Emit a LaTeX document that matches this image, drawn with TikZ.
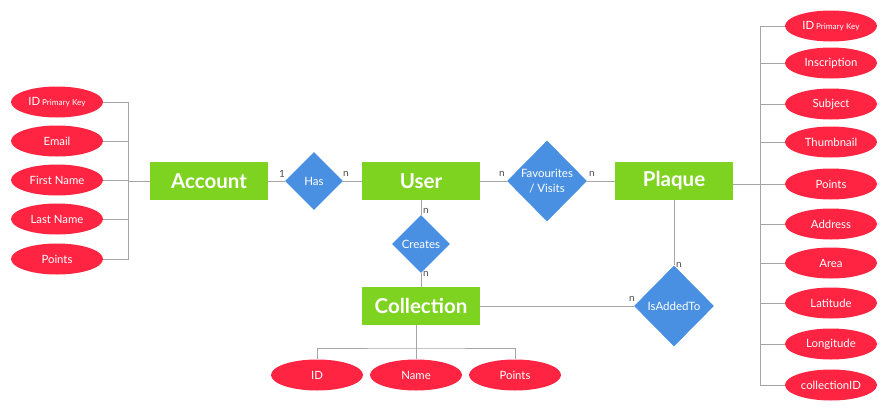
\documentclass[tikz,border=0pt]{standalone}
\usepackage{fontspec}
\setmainfont{Lato}
\usetikzlibrary{shapes}
\definecolor{entgreen}{RGB}{126,211,33}
\definecolor{relblue}{RGB}{74,144,226}
\definecolor{attred}{RGB}{255,36,66}
\definecolor{linegray}{RGB}{165,165,165}
\tikzset{
	entity/.style = {
		rectangle,
		fill=entgreen,
		draw=none,
		text=white,
		font=\fontsize{17.5}{20}\selectfont\bfseries,
		minimum width=118*0.03cm,
		minimum height=38*0.03cm,
		inner sep=0pt
	},
	relation/.style = {
		diamond,
		fill=relblue,
		draw=none,
		inner sep=0pt,
		minimum width=58*0.03cm,
		minimum height=58*0.03cm
	},
	relation_big/.style = {
		relation,
		minimum width=80*0.03cm,
		minimum height=81*0.03cm
	},
	reltext/.style = {
		text=white,
		align=center,
		font=\fontsize{9.8}{12.5}\selectfont,
		inner sep=0pt
	},
	attribute/.style = {
		ellipse,
		fill=attred,
		draw=none,
		text=white,
		font=\fontsize{9.7}{11}\selectfont,
		minimum width=92*0.03cm,
		minimum height=31*0.03cm,
		inner sep=0pt
	},
	card/.style = {
		text=black!70,
		font=\fontsize{8.5}{10}\selectfont,
		inner sep=0pt
	},
	link/.style = {
		draw=linegray,
		line width=0.8pt
	}
}
\newcommand{\pkey}{\,{\fontsize{7}{8}\selectfont Primary Key}}

\begin{document}
\begin{tikzpicture}[x=0.03cm, y=-0.03cm]
\useasboundingbox (0,0) rectangle (885,413);

% entities
\node [entity] (account) at (209,181) {Account};
\node [entity] (user) at (421,181) {User};
\node [entity] (plaque) at (674,181) {Plaque};
\node [entity] (collection) at (421,306) {Collection};

% relations
\node [relation, label={[reltext]center:Has}] (has) at (314,181) {};
\node [relation_big, label={[reltext]center:Favourites\\/ Visits}] (fav) at (547,181) {};
\node [relation, label={[reltext]center:Creates}] (creates) at (421,244) {};
\node [relation_big, label={[reltext]center:IsAddedTo}] (added) at (674,306) {};

% account attributes
\foreach \name/\txt/\y in {aid/{ID\pkey}/102, aemail/Email/141, afirst/First Name/180, alast/Last Name/219, apoints/Points/259} {
	\node [attribute] (\name) at (57,\y) {\txt};
}
\coordinate (abus) at (128,181);
\draw [link] (aid.east) -| (128,259) -- (apoints.east);
\foreach \name in {aemail, afirst, alast} {
	\draw [link] (\name.east) -- (\name.east -| abus);
}
\draw [link] (abus) -- (account.west);

% plaque attributes
\foreach \name/\txt/\y in {pid/{ID\pkey}/26, pinscr/Inscription/63, psubj/Subject/104, pthumb/Thumbnail/142, ppoints/Points/184, paddr/Address/224, parea/Area/263, plat/Latitude/303, plong/Longitude/344, pcoll/collectionID/385} {
	\node [attribute] (\name) at (831,\y) {\txt};
}
\coordinate (pbus) at (760,184);
\draw [link] (pid.west) -| (760,385) -- (pcoll.west);
\foreach \name in {pinscr, psubj, pthumb, ppoints, paddr, parea, plat, plong} {
	\draw [link] (\name.west) -- (\name.west -| pbus);
}
\draw [link] (plaque.east |- pbus) -- (pbus);

% collection attributes
\node [attribute] (cid) at (317,375) {ID};
\node [attribute] (cname) at (416,375) {Name};
\node [attribute] (cpoints) at (515,375) {Points};
\coordinate (cbus) at (416,348);
\draw [link] (cid.north) |- (cbus) -| (cpoints.north);
\draw [link] (collection.south -| cbus) -- (cname.north);

% relation links
\draw [link] (account.east) -- (has.west);
\draw [link] (has.east) -- (user.west);
\draw [link] (user.east) -- (fav.west);
\draw [link] (fav.east) -- (plaque.west);
\draw [link] (user.south) -- (creates.north);
\draw [link] (creates.south) -- (collection.north);
\draw [link] (collection.east) -- (added.west);
\draw [link] (plaque.south) -- (added.north);

% cardinalities
\node [card] (c1) at (282,174) {1};
\node [card] (c2) at (346,174) {n};
\node [card] (c3) at (502,174) {n};
\node [card] (c4) at (592,174) {n};
\node [card] (c5) at (426,211) {n};
\node [card] (c6) at (426,274) {n};
\node [card] (c7) at (679,265) {n};
\node [card] (c8) at (632,299) {n};
\end{tikzpicture}
\end{document}
